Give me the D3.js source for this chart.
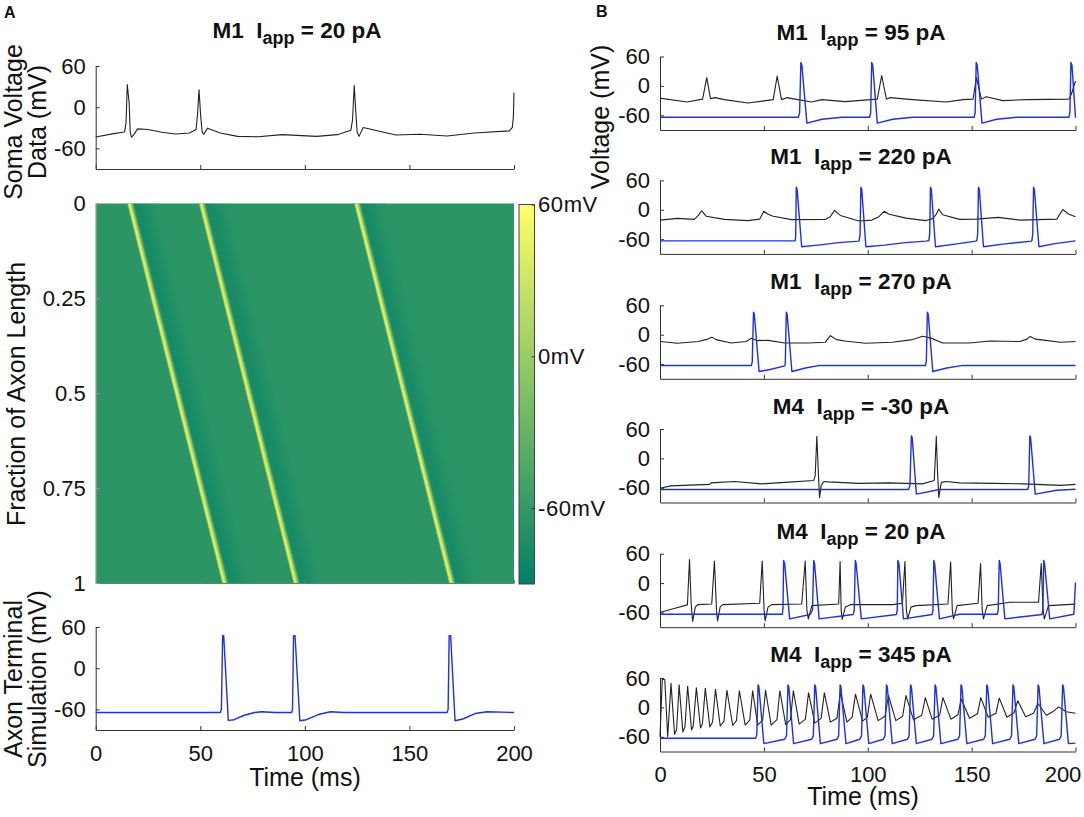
<!DOCTYPE html>
<html>
<head>
<meta charset="utf-8">
<script src="https://cdn.jsdelivr.net/npm/d3@7"></script>
<style>
  html, body { margin: 0; padding: 0; background: #fff; }
  svg { display: block; }
  text { font-family: "Liberation Sans", Arial, sans-serif; fill: #111; }
  .ttl { white-space: pre; font-weight: bold; }
</style>
</head>
<body>
<svg id="fig" width="1084" height="817"></svg>
<script>
// ---- values: [time ms, voltage mV] ----
var yTicks = [60, 0, -60];
var timeTicks = [0, 50, 100, 150, 200];
var fracTicks = [0, 0.25, 0.5, 0.75, 1];
var fracLabels = ["0", "0.25", "0.5", "0.75", "1"];
var cbarTicks = [60, 0, -60];
var cbarLabels = ["60mV", "0mV", "-60mV"];
var summerColors = ["#008066", "#FFFF66"];

// panel A
var somaData = [[0,-43.5],[8.6,-38.5],[13.8,-36],[14.5,-23],[15.1,33],[16,6],[16.5,-36],[17.1,-43.5],[18,-41],[20,-31.5],[25,-32.5],[31.6,-36.5],[38.2,-39],[44.8,-37.5],[48,-32.5],[48.7,-10],[49.4,25.5],[50.2,-13],[50.9,-36],[51.7,-39.5],[53.5,-30.5],[59.6,-37.5],[67.8,-42.5],[77.7,-43],[89.2,-40],[105.7,-42.5],[115.5,-40],[122,-33.5],[122.8,-18.5],[123.6,31.5],[124.4,-8.5],[125,-36],[125.9,-42.5],[127.9,-29.5],[133.6,-33.5],[143.5,-40.5],[155,-39.5],[168,-42],[181,-37.5],[197.8,-34.5],[199.2,-29.5],[199.7,-13.5],[200,21.5]];
var terminalSim = [[0,-64.5],[59.6,-64.5],[60.1,-60],[60.7,47.5],[61.2,47.5],[63.4,-76],[66.2,-75],[71,-68.5],[76,-64.5],[79.3,-63.5],[85.9,-64.5],[93.7,-64.5],[94.1,-60],[94.6,47.5],[95.3,47.5],[97.6,-76.5],[100.7,-75],[106.5,-67.5],[112.2,-63.5],[118.8,-64.5],[168,-64.5],[168.5,-60],[169,47.5],[169.7,47.5],[171.8,-76.5],[175.5,-74],[181.4,-66],[187.1,-63.5],[200,-64.5]];

// heat map: spike time at the top and at the bottom of the axon, and the
// voltage just after the wave passes [ms after onset, mV]
var waveTop = [15.5, 49.8, 124];
var waveBottom = [60.9, 95, 169.4];
var waveProfile = [[-1,-64],[-0.8,-60],[-0.6,-45],[-0.4,-20],[-0.2,10],[0,35],[0.2,47],[0.4,48],[0.6,48],[0.8,42],[1,30],[1.2,18],[1.4,6],[1.6,-6],[1.8,-20],[2,-34],[2.2,-48],[2.4,-60],[2.6,-70],[2.8,-76],[3.2,-77],[4,-76.5],[5,-75.5],[6,-74.5],[7,-73],[8,-71.5],[9,-70],[10,-68.5],[11,-67],[12,-66],[13,-65.5],[14,-65],[15,-65]];
var restV = -65;

// panel B
var m1_95_data = [[0,-25],[13,-33],[20.5,-27],[22.5,17],[24.3,-26],[26.5,-24],[31,-28],[42.4,-35],[54.5,-28],[56.4,20],[58.5,-28],[61,-24],[65,-27],[73,-33],[78,-28],[89,-32],[104.6,-27],[106.7,21],[109,-27],[110.6,-24],[121.6,-28],[137.8,-33],[145.8,-28],[150.7,-27],[152.3,17],[154.7,-27],[157,-22],[165,-30],[176.6,-28],[196.8,-27],[198,-17],[200,10]];
var m1_95_sim = [[0,-64],[66.6,-64],[67.2,-55],[67.8,48],[68.3,42],[70.7,-76],[78,-68],[87.6,-64],[100.9,-64],[101.4,-55],[101.9,48],[102.4,42],[104.6,-76],[112,-68],[121.6,-64],[151.2,-64],[151.7,-55],[152.2,48],[152.7,42],[155,-76],[162,-68],[171.7,-64],[196.8,-64],[197.3,-55],[197.8,48],[198.3,42],[200,-65]];
var m1_220_data = [[0,-21],[8.4,-17.5],[16.5,-19.5],[18.4,-12],[20,-2],[22.2,-13],[31,-19.5],[42.4,-22],[48,-19],[50,-3],[52,-9],[54.5,-13],[63.4,-20],[79.6,-19.5],[82,-14],[84,-1],[86.8,-11.5],[95.7,-23],[102,-21],[105.4,-14],[107.9,-3],[110.3,-9],[118.4,-17],[128,-22],[131.3,-18],[133,-9],[134.2,1.5],[136,-10],[144.2,-19.5],[152.3,-19],[162.8,-15.5],[173.3,-21],[191,-19],[193.9,0.5],[196.8,-9],[200,-14]];
var m1_220_sim = [[0,-63.5],[65,-63.5],[65.3,-55],[65.6,46],[66,42],[68.2,-75.5],[76,-72],[86,-67],[95.7,-64],[95.9,-62],[96.3,-50],[96.7,46],[97.1,42],[99.1,-75.5],[108,-72],[118,-67],[128,-64],[129.4,-63],[129.8,-50],[130.2,46],[130.6,42],[132.6,-75.5],[142,-70],[152,-64],[152.5,-63],[152.9,-50],[153.3,46],[153.7,42],[155.7,-75.5],[165,-70],[178.8,-64],[179,-63],[179.4,-50],[179.8,46],[180.2,42],[182.4,-75.5],[190,-69],[200,-63.5]];
var m1_270_data = [[0,-14],[8.4,-17.5],[18.4,-14],[23,-9],[25,-5],[27,-10],[34.3,-17],[41.5,-14],[44,-7],[46.5,-12],[52,-11.5],[60,-17],[71.5,-17],[79.5,-15.5],[82,-2],[85,-10],[89,-13],[98.8,-17.5],[111.8,-15.5],[121.5,-10],[126.5,-3],[130.5,-7],[136,-17],[149,-17],[158.8,-13],[173.3,-14],[176.6,-9],[178.2,-3.5],[180.6,-9],[184.7,-11],[192.8,-15.5],[200,-14]];
var m1_270_sim = [[0,-63],[44,-63],[44.4,-55],[45,46],[45.4,42],[47.7,-75],[53,-71],[60,-63.5],[60.3,-60],[60.8,46],[61.2,42],[63.5,-75],[70,-68],[76.3,-63],[127.7,-63],[128.2,-55],[128.7,46],[129.1,42],[131.3,-75],[138,-68],[145.8,-62.5],[200,-63]];
var m4_n30_data = [[0,-61],[5.2,-56],[23.8,-53],[24.6,-50],[36,-47],[48.8,-52],[60.2,-49],[74,-45],[74.7,-35],[75.5,45],[76.2,-28],[76.8,-80],[77.6,-55],[78.8,-47],[81,-48],[95.7,-51],[110.3,-50],[126.3,-52],[132,-45],[133,45],[133.6,-28],[134.2,-80],[135.4,-49],[137.8,-47],[144.2,-50],[160.4,-51],[175,-52],[193,-55],[200,-53]];
var m4_n30_sim = [[0,-63.5],[119.7,-63.5],[120.3,-55],[121,46],[121.4,42],[123.4,-73],[134.5,-63.5],[177,-63.5],[177.5,-55],[178,46],[178.4,42],[180.6,-73],[191,-65],[200,-63]];
var m4_20_data = [[0,-60],[6.8,-52],[13.2,-44.5],[14.2,48],[15,-42],[15.7,-78],[17,-49],[18.1,-44],[24.9,-42.5],[26.2,45],[27.2,-55],[27.7,-77],[29,-48],[30.2,-44],[48,-41],[49.2,45],[50.1,-55],[50.6,-77],[52,-49],[53.7,-44],[68.2,-42.5],[69.9,45],[70.7,-55],[71.4,-73],[73.1,-46],[86,-42.5],[86.7,44],[87.2,-55],[87.7,-74],[89.2,-49],[91.7,-44],[112,-44],[116.7,-41],[117.9,44],[118.6,-55],[119.2,-73],[120.8,-49],[123.2,-46],[138.6,-42.5],[139.9,43],[140.7,-55],[141.3,-73],[143,-46],[153.1,-41],[154.3,40],[155.1,-55],[155.7,-73],[157.5,-46],[168.5,-39],[182.2,-39],[183.5,40],[184.4,-55],[185,-73],[187,-46],[200,-43]];
var m4_20_sim = [[0,-63.5],[58.9,-63.5],[59.2,-50],[59.5,46],[60,40],[62.4,-73],[72.3,-64],[73.4,-55],[74,46],[74.4,40],[76.6,-73],[93,-64],[93.5,-55],[94,46],[94.4,40],[96.9,-73],[113.8,-64],[114.2,-55],[114.5,46],[115,40],[117.2,-73],[131,-64],[131.4,-55],[131.8,46],[132.2,40],[134.5,-73],[144.2,-63.5],[162.3,-63.5],[162.8,-55],[163.3,46],[163.7,40],[166,-73],[183.9,-64],[184.3,-55],[184.7,46],[185.1,40],[187.6,-73],[199.2,-63.5],[200,1]];
var m4_345_data = [[0,-60],[1.1,57],[2.3,57],[3.7,-60],[5.3,49],[7,-55],[8,-45],[9.2,46],[11,-50],[12,-40],[13.3,43],[15.2,-46],[16,-38],[17.5,40],[19.5,-42],[20.4,-34],[21.8,39],[24,-40],[25.3,-30],[26.7,37],[29,-38],[30.8,-28],[32.2,35],[35,-37],[36.8,-27],[38.2,34],[41,-36],[43.2,-26],[44.6,34],[47,-36],[49.4,-26],[50.8,35],[53.5,-36],[56.3,-25],[57.7,34],[60.5,-35],[62.8,-25],[64.2,34],[67,-34],[70,-24],[71.5,30],[74.5,-32],[77.6,-22],[79.1,30],[82,-30],[85.2,-22],[86.8,30],[90,-30],[92.5,-20],[94.1,27],[97.5,-28],[99.8,-20],[101.4,27],[105,-27],[108.3,-18],[110,24],[113.5,-27],[116.8,-18],[118.4,24],[122,-25],[126,-16],[127.7,20],[131,-24],[134.6,-16],[136.2,20],[140,-24],[143.4,-15],[145,17],[149,-22],[152.8,-13],[154.4,20],[158,-20],[161.7,-12],[163.3,19],[167,-20],[170.4,-11],[172.2,13.5],[176,-19],[179.8,-12],[181.9,8],[186,-16],[189,-9],[191.9,1],[195.5,-9],[200,-12]];
var m4_345_sim = [[0,-63],[46,-63],[46.6,-55],[47.2,46],[47.6,42],[50,-74],[60,-65],[60.9,-58],[61.6,46],[62,42],[64.3,-74],[73,-65],[73.8,-58],[74.5,46],[74.9,42],[77.2,-74],[85.2,-65],[86,-58],[86.7,46],[87.1,42],[89.5,-74],[96.2,-65],[97,-58],[97.7,46],[98.1,42],[100.5,-74],[107.5,-65],[108.3,-58],[109,46],[109.4,42],[111.8,-74],[119.1,-65],[119.9,-58],[120.6,46],[121,42],[123.4,-74],[130.9,-65],[131.7,-58],[132.4,46],[132.8,42],[135.2,-74],[143.4,-65],[144.2,-58],[144.9,46],[145.3,42],[147.7,-74],[155.8,-65],[156.6,-58],[157.3,46],[157.7,42],[160.1,-74],[168.4,-65],[169.2,-58],[169.9,46],[170.3,42],[172.7,-74],[180.5,-65],[181.3,-58],[182,46],[182.4,42],[184.8,-74],[192.3,-65],[193.1,-58],[193.8,46],[194.2,42],[196.6,-74],[200,-73]];

var panelsB = [
  {model: "M1", amp: "95",  data: m1_95_data,  sim: m1_95_sim,  top: 56.5,  titleY: 40},
  {model: "M1", amp: "220", data: m1_220_data, sim: m1_220_sim, top: 180.4, titleY: 164},
  {model: "M1", amp: "270", data: m1_270_data, sim: m1_270_sim, top: 305.3, titleY: 289},
  {model: "M4", amp: "-30", data: m4_n30_data, sim: m4_n30_sim, top: 429,   titleY: 413.5},
  {model: "M4", amp: "20",  data: m4_20_data,  sim: m4_20_sim,  top: 553.7, titleY: 538.5},
  {model: "M4", amp: "345", data: m4_345_data, sim: m4_345_sim, top: 678,   titleY: 662}
];

var BLACK = "#222", BLUE = "#1f30e0", AXIS = "#333";
var TICK_FS = 22, LABEL_FS = 25, TITLE_FS = 22.5;

var svg = d3.select("#fig");
var color = d3.scaleLinear().domain([-90, 60]).range(summerColors);

// title with the subscript
function title(x, y, model, amp) {
  var t = svg.append("text").attr("class", "ttl").attr("x", x).attr("y", y)
    .attr("text-anchor", "middle").attr("font-size", TITLE_FS);
  t.append("tspan").text(model + "  I");
  t.append("tspan").attr("dy", 6).attr("font-size", TITLE_FS * 0.8).text("app");
  t.append("tspan").attr("dy", -6).text(" = " + amp + " pA");
}

function ylabel(x, y, s) {
  svg.append("text").attr("transform", "translate(" + x + "," + y + ") rotate(-90)")
    .attr("text-anchor", "middle").attr("font-size", LABEL_FS).text(s);
}

function styleAxis(g) {
  g.selectAll("path,line").attr("stroke", AXIS).attr("stroke-width", 1);
  g.selectAll("text").attr("font-size", TICK_FS).attr("font-family", null).attr("fill", "#111");
}

// one voltage panel: left and bottom axes, inward ticks, traces
function tracePanel(x0, x1, top, bottom, traces, showTime, lastShift) {
  var x = d3.scaleLinear().domain([0, 200]).range([x0, x1]);
  var y = d3.scaleLinear().domain([-90, 60]).range([bottom, top]);
  var line = d3.line().x(function(d) { return x(d[0]); }).y(function(d) { return y(d[1]); });

  var gx = svg.append("g").attr("transform", "translate(0," + bottom + ")")
    .call(d3.axisBottom(x).tickValues(timeTicks).tickSizeInner(-4).tickSizeOuter(0).tickPadding(15)
      .tickFormat(showTime ? String : ""));
  var gy = svg.append("g").attr("transform", "translate(" + x0 + ",0)")
    .call(d3.axisLeft(y).tickValues(yTicks).tickSizeInner(-4).tickSizeOuter(0).tickPadding(10).tickFormat(String));
  styleAxis(gx); styleAxis(gy);
  if (showTime && lastShift) gx.selectAll("text").filter(function(d) { return d === 200; }).attr("dx", lastShift);

  traces.forEach(function(tr) {
    svg.append("path").datum(tr.values).attr("d", line).attr("fill", "none")
      .attr("stroke", tr.color).attr("stroke-width", tr.width).attr("stroke-linejoin", "round");
  });
}

// ---- panel A ----
var AX0 = 95.7, AX1 = 514;
svg.append("text").attr("x", 4).attr("y", 18).attr("font-size", 16).attr("font-weight", "bold").text("A");
title(297, 38, "M1", "20");
tracePanel(AX0, AX1, 66, 169, [{values: somaData, color: BLACK, width: 1.1}], false);
ylabel(22, 122, "Soma Voltage");
ylabel(46, 122, "Data (mV)");

// heat map
var hx = d3.scaleLinear().domain([0, 200]).range([AX0, AX1]);
var hy = d3.scaleLinear().domain([0, 1]).range([203.5, 583]);
svg.append("clipPath").attr("id", "heatClip").append("rect")
  .attr("x", AX0).attr("y", hy(0)).attr("width", AX1 - AX0).attr("height", hy(1) - hy(0));
svg.append("rect").attr("x", AX0).attr("y", hy(0)).attr("width", AX1 - AX0).attr("height", hy(1) - hy(0))
  .attr("fill", color(restV));
var heat = svg.append("g").attr("clip-path", "url(#heatClip)");
waveTop.forEach(function(t0, k) {
  var t1 = waveBottom[k];
  // each band runs a little into the next so no seams show
  heat.selectAll(null).data(waveProfile.slice(0, -1)).enter().append("polygon")
    .attr("fill", function(d) { return color(d[1]); })
    .attr("points", function(d, i) {
      var a = d[0], b = waveProfile[i + 1][0] + 0.15;
      return [[hx(t0 + a), hy(0)], [hx(t0 + b), hy(0)], [hx(t1 + b), hy(1)], [hx(t1 + a), hy(1)]].join(" ");
    });
});
var hgx = svg.append("g").attr("transform", "translate(0," + hy(1) + ")")
  .call(d3.axisBottom(hx).tickValues(timeTicks).tickSizeInner(-3).tickSizeOuter(0).tickFormat(""));
var hgy = svg.append("g").attr("transform", "translate(" + AX0 + ",0)")
  .call(d3.axisLeft(hy).tickValues(fracTicks).tickSizeInner(-4).tickSizeOuter(0).tickPadding(10)
    .tickFormat(function(d, i) { return fracLabels[i]; }));
styleAxis(hgx); styleAxis(hgy);
hgx.selectAll("path,line").attr("stroke", "#777");
hgy.selectAll("path,line").attr("stroke", "#999");
ylabel(25, 394, "Fraction of Axon Length");

// colour bar
var cy = d3.scaleLinear().domain([-90, 60]).range([584, 204.5]);
var grad = svg.append("defs").append("linearGradient").attr("id", "summer")
  .attr("x1", 0).attr("y1", 1).attr("x2", 0).attr("y2", 0);
grad.selectAll("stop").data(color.domain()).enter().append("stop")
  .attr("offset", function(d, i) { return i; }).attr("stop-color", function(d) { return color(d); });
svg.append("rect").attr("x", 519).attr("y", cy(60)).attr("width", 15.5).attr("height", cy(-90) - cy(60))
  .attr("fill", "url(#summer)").attr("stroke", "#444").attr("stroke-width", 1);
var gc = svg.append("g").attr("transform", "translate(534.5,0)")
  .call(d3.axisRight(cy).tickValues(cbarTicks).tickSizeInner(-3).tickSizeOuter(0).tickPadding(3.5)
    .tickFormat(function(d, i) { return cbarLabels[i]; }));
styleAxis(gc);
gc.selectAll("text").attr("letter-spacing", 0.6);
gc.select(".domain").remove();

// terminal
tracePanel(AX0, AX1, 627, 730, [{values: terminalSim, color: BLUE, width: 1.4}], true);
ylabel(22, 679, "Axon Terminal");
ylabel(46, 679, "Simulation (mV)");
svg.append("text").attr("x", 305).attr("y", 786).attr("text-anchor", "middle").attr("font-size", LABEL_FS).text("Time (ms)");

// ---- panel B ----
var BX0 = 660, BX1 = 1075.5;
svg.append("text").attr("x", 596).attr("y", 17).attr("font-size", 16).attr("font-weight", "bold").text("B");
panelsB.forEach(function(p, i) {
  title(861, p.titleY, p.model, p.amp);
  tracePanel(BX0, BX1, p.top, p.top + 73.5,
    [{values: p.data, color: BLACK, width: 1.1}, {values: p.sim, color: BLUE, width: 1.4}],
    i === panelsB.length - 1, -13);
});
ylabel(609, 117, "Voltage (mV)");
svg.append("text").attr("x", 863).attr("y", 805).attr("text-anchor", "middle").attr("font-size", LABEL_FS).text("Time (ms)");
</script>
</body>
</html>
